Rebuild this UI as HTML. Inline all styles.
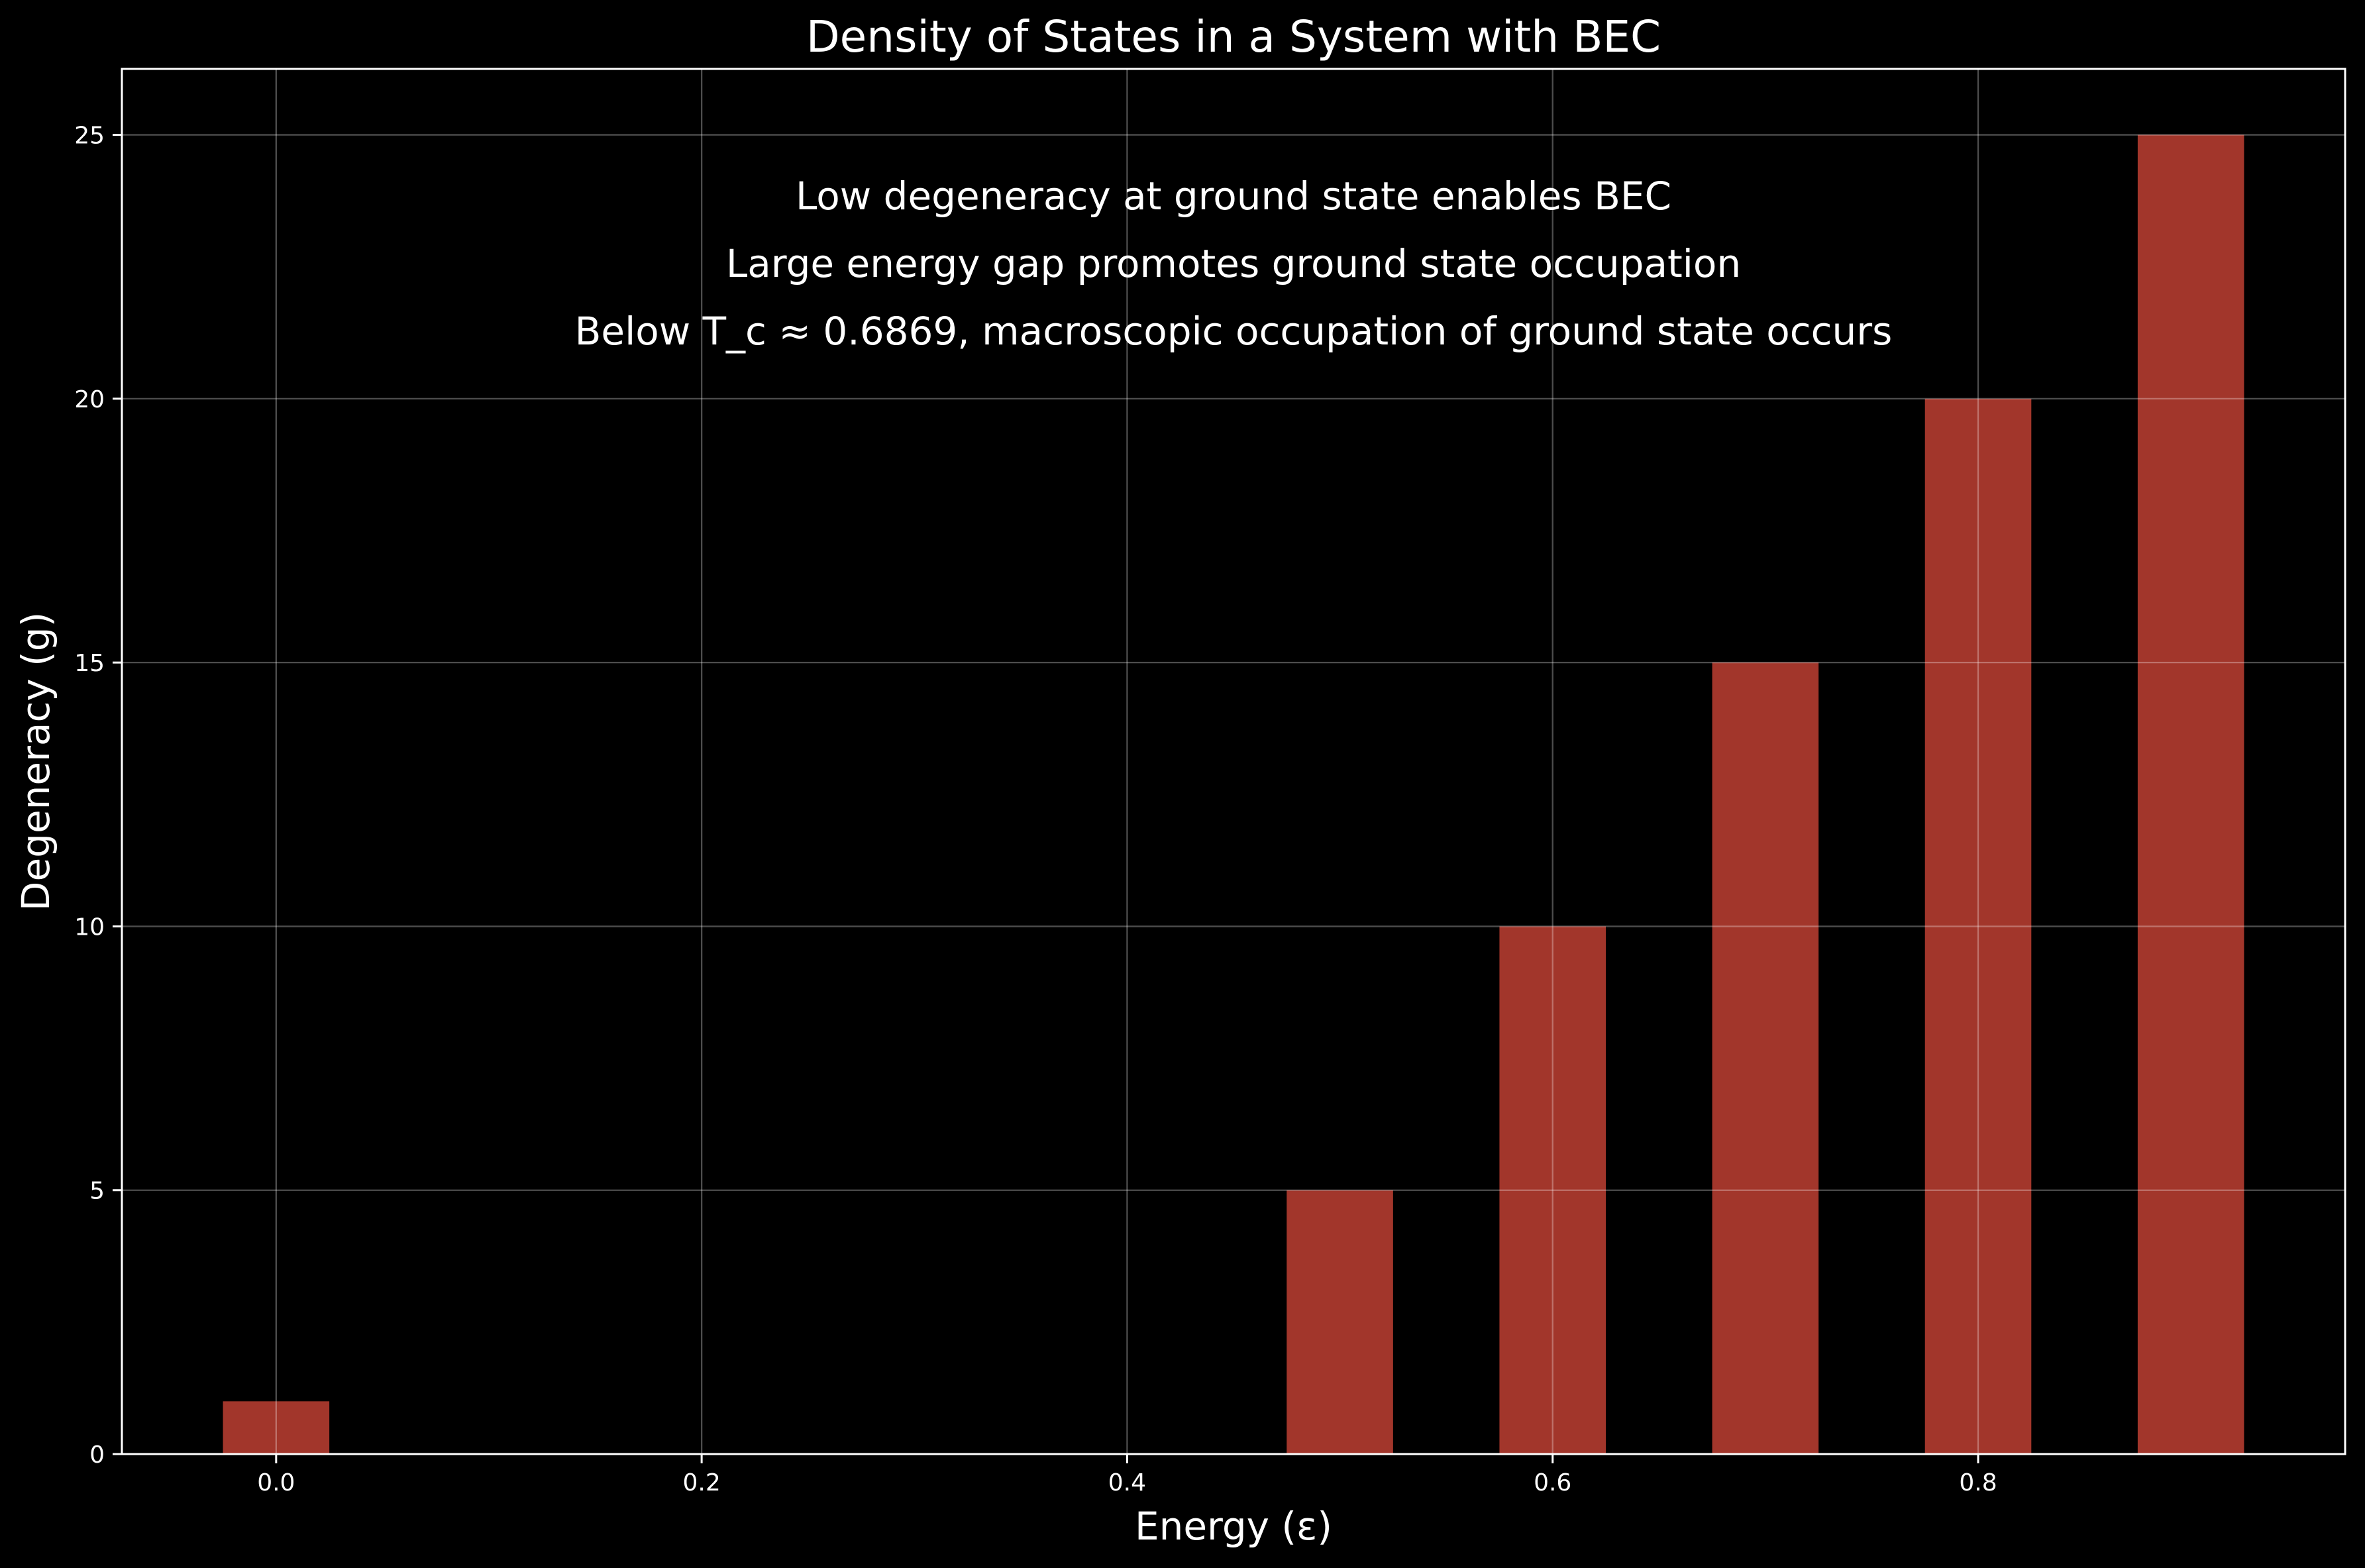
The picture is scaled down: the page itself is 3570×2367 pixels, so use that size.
<!DOCTYPE html>
<html><head><meta charset="utf-8"><style>
html,body{margin:0;padding:0;background:#000;}
svg{display:block;font-family:"DejaVu Sans","Liberation Sans",sans-serif;}
</style></head><body>
<svg id="chart" width="3570" height="2367" viewBox="0 0 3570 2367"></svg>
<script>
const categories = [0.0, 0.5, 0.6, 0.7, 0.8, 0.9];
const degeneracy = [1, 5, 10, 15, 20, 25];
const xTicks = [0.0, 0.2, 0.4, 0.6, 0.8];
const yTicks = [0, 5, 10, 15, 20, 25];
const notes = ["Low degeneracy at ground state enables BEC","Large energy gap promotes ground state occupation","Below T_c \u2248 0.6869, macroscopic occupation of ground state occurs"];
const barWidth = 0.05;

const L=184,R=3540,T=104,B=2195;
const xmin=-0.0725,xmax=0.9725,ymin=0,ymax=26.25;
const sx=v=>L+(v-xmin)/(xmax-xmin)*(R-L);
const sy=v=>B-(v-ymin)/(ymax-ymin)*(B-T);
const svg=document.getElementById('chart');
const NS='http://www.w3.org/2000/svg';
function mk(tag,attrs,parent){const e=document.createElementNS(NS,tag);for(const k in attrs)e.setAttribute(k,attrs[k]);(parent||svg).appendChild(e);return e;}

categories.forEach((c,i)=>{
  const r=mk('rect',{x:sx(c-barWidth/2),y:sy(degeneracy[i]),width:sx(c+barWidth/2)-sx(c-barWidth/2),height:sy(0)-sy(degeneracy[i]),fill:'#a2362b'});
  
  
});
xTicks.forEach(t=>{
  const g=mk('line',{x1:sx(t),x2:sx(t),y1:T,y2:B,stroke:'#fff','stroke-opacity':0.3,'stroke-width':2.3});
  
  
  mk('line',{x1:sx(t),x2:sx(t),y1:B,y2:B+14,stroke:'#fff','stroke-width':3});
  const tx=mk('text',{x:sx(t),y:2250,fill:'#fff','font-size':36,'text-anchor':'middle'});
  tx.textContent=t.toFixed(1);
  
  
});
yTicks.forEach(t=>{
  const g=mk('line',{x1:L,x2:R,y1:sy(t),y2:sy(t),stroke:'#fff','stroke-opacity':0.3,'stroke-width':2.3});
  
  
  mk('line',{x1:L-14,x2:L,y1:sy(t),y2:sy(t),stroke:'#fff','stroke-width':3});
  const tx=mk('text',{x:L-26,y:sy(t)+13,fill:'#fff','font-size':36,'text-anchor':'end'});
  tx.textContent=t;
  
  
});
const frame=mk('rect',{x:L,y:T,width:R-L,height:B-T,fill:'none',stroke:'#fff','stroke-width':3});



const title=mk('text',{x:(L+R)/2,y:78,fill:'#fff','font-size':66,'text-anchor':'middle'});
title.textContent='Density of States in a System with BEC';



const xl=mk('text',{x:(L+R)/2,y:2324,fill:'#fff','font-size':58,'text-anchor':'middle'});
xl.textContent='Energy (\u03b5)';



const yl=mk('text',{x:0,y:0,fill:'#fff','font-size':58,'text-anchor':'middle',transform:'translate(74,'+((T+B)/2)+') rotate(-90)'});
yl.textContent='Degeneracy (g)';



const ny=[316,418,520];
notes.forEach((n,i)=>{
  const t=mk('text',{x:1862,y:ny[i],fill:'#fff','font-size':58,'text-anchor':'middle'});
  t.textContent=n;
  
  
});
</script>
</body></html>
